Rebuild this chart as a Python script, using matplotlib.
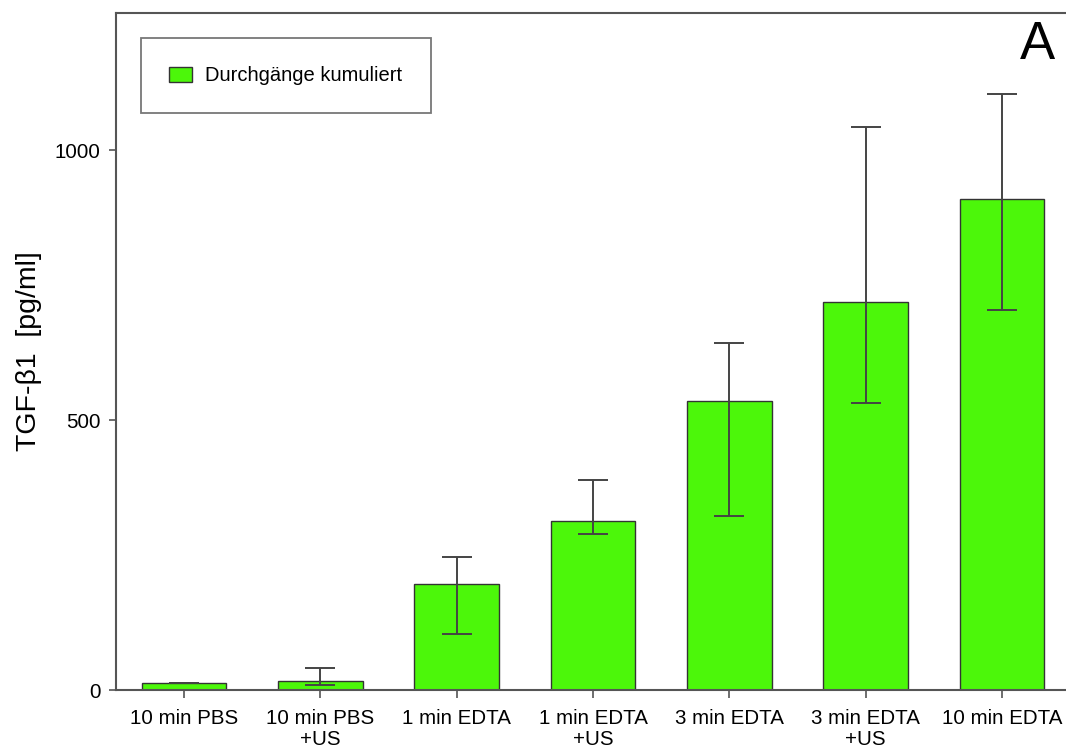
import matplotlib.pyplot as plt
import numpy as np

plt.rcParams['font.family'] = ['Liberation Sans', 'DejaVu Sans']

groups = ['10 min PBS', '10 min PBS\n+US', '1 min EDTA', '1 min EDTA\n+US',
          '3 min EDTA', '3 min EDTA\n+US', '10 min EDTA']
means = [13, 17, 196, 313, 535, 718, 909]
err_low = [13, 9, 104, 289, 322, 531, 704]
err_high = [13, 41, 246, 389, 643, 1043, 1104]

means = np.array(means)
yerr = [means - np.array(err_low), np.array(err_high) - means]
x = np.arange(len(groups))

fig = plt.figure(figsize=(10.66, 7.49), dpi=100)
W, H = 1066, 749
ax = fig.add_axes([116 / W, 1 - 690 / H, 954 / W, 677 / H])

ax.bar(x, means, width=0.62, color='#4cf70a', edgecolor='#333333',
       linewidth=1.0, label='Durchgänge kumuliert', zorder=2)
ax.errorbar(x, means, yerr=yerr, fmt='none', ecolor='#444444',
            elinewidth=1.4, capsize=11, capthick=1.4, zorder=3)

ax.set_xlim(-0.5, 6.5)
ax.set_ylim(0, 1254)
ax.set_yticks([0, 500, 1000])
ax.set_xticks(x)
ax.set_xticklabels(groups, fontsize=14.8, linespacing=1.08)
ax.tick_params(axis='y', labelsize=14.8, length=5, width=1.2, color='#555555', pad=6)
ax.tick_params(axis='x', length=6, width=1.2, color='#555555', pad=8)

for side in ['left', 'top', 'bottom']:
    ax.spines[side].set_color('#555555')
    ax.spines[side].set_linewidth(1.5)
ax.spines['right'].set_visible(False)

ax.set_ylabel('TGF-β1  [pg/ml]', fontsize=20.5, labelpad=9)

leg = ax.legend(loc='upper left', bbox_to_anchor=(25 / 954, 1 - 25 / 677),
                fontsize=14.5, frameon=True, fancybox=False, edgecolor='#555555',
                handlelength=1.15, handleheight=0.75, borderpad=1.4,
                borderaxespad=0, handletextpad=0.65)
leg.get_frame().set_linewidth(1.3)

fig.text(1037 / W, 1 - 45 / H, 'A', fontsize=38, ha='center', va='center')

fig.savefig('out.png', dpi=100)
